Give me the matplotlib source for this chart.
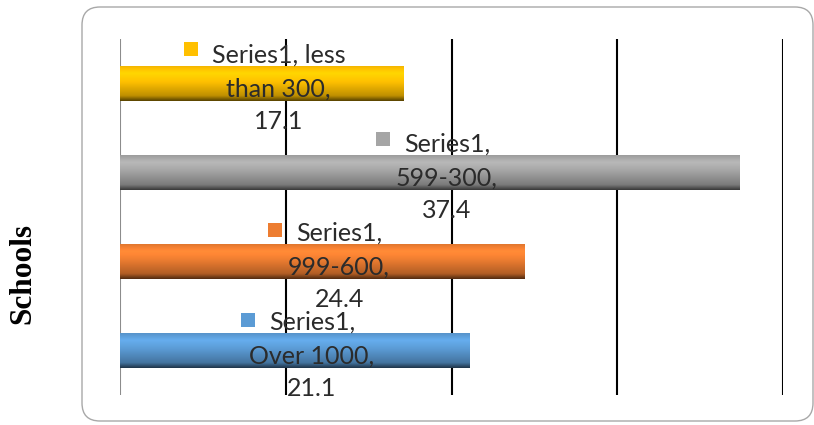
import matplotlib
matplotlib.use("Agg")
import matplotlib.pyplot as plt
import numpy as np
from matplotlib.patches import FancyBboxPatch, Rectangle
from matplotlib.transforms import IdentityTransform
import matplotlib.colors as mcolors

categories = ["Over 1000", "999-600", "599-300", "less than 300"]
values = [21.1, 24.4, 37.4, 17.1]
colors = ["#5B9BD5", "#ED7D31", "#A5A5A5", "#FFC000"]
label_lines = [
    ["Series1,", "Over 1000,", "21.1"],
    ["Series1,", "999-600,", "24.4"],
    ["Series1,", "599-300,", "37.4"],
    ["Series1, less", "than 300,", "17.1"],
]
xticks = [0, 10, 20, 30, 40]

W, H = 814, 425
fig = plt.figure(figsize=(W / 100, H / 100), dpi=100)
fig.patch.set_facecolor("white")

# rounded frame (pixel coordinates)
frame = FancyBboxPatch((82, 4), 813 - 82, 418 - 4,
                       boxstyle="round,pad=0,rounding_size=18",
                       transform=IdentityTransform(), facecolor="white",
                       edgecolor="#A8A8A8", linewidth=1.0, zorder=-5)
fig.patches.append(frame)

ax = fig.add_axes([120 / W, (H - 395) / H, (783 - 120) / W, (395 - 39) / H])
ax.set_zorder(1)
ax.set_facecolor("none")
for s in ax.spines.values():
    s.set_visible(False)
ax.set_xticks([])
ax.set_yticks([])

for x in xticks:
    ax.axvline(x, color="#8C8C8C" if x == 0 else "black", lw=1.5, zorder=1)

ypos = np.arange(len(categories))
bars = ax.barh(ypos, values, height=0.39, color=colors, zorder=2)

# gradient overlay on each bar
for b, c in zip(bars, colors):
    x0, y0 = b.get_x(), b.get_y()
    w, h = b.get_width(), b.get_height()
    rgb = np.array(mcolors.to_rgb(c))
    n = 64
    t = np.linspace(0, 1, n)  # 0 bottom, 1 top
    shade = np.interp(t, [0, 0.15, 0.55, 0.8, 1.0], [0.35, 0.75, 1.0, 1.12, 0.95])
    col = np.clip(rgb[None, :] * shade[:, None], 0, 1)
    img = np.repeat(col[:, None, :], 2, axis=1)
    ax.imshow(img, extent=(x0, x0 + w, y0, y0 + h), origin="lower",
              aspect="auto", zorder=2.5, interpolation="bilinear")
    b.set_edgecolor("none")
ax.set_xlim(0, 40)
ax.set_ylim(-0.5, 3.5)

fs = 18
font = "Lato"
px2pt = 0.72
dx = 17 * px2pt
baseline_offsets = [20.5, -13, -45.5]  # pixels, upward positive, relative to bar centre
first_lines = []
for i, (v, lines, c) in enumerate(zip(values, label_lines, colors)):
    cx = v / 2
    for j, (ln, dy) in enumerate(zip(lines, baseline_offsets)):
        t = ax.annotate(ln, (cx, i), xytext=(dx, dy * px2pt), textcoords="offset points",
                        ha="center", va="baseline", fontsize=fs, family=font,
                        color="#2B2B2B", zorder=4)
        if j == 0:
            first_lines.append((t, c))

fig.canvas.draw()
r = fig.canvas.get_renderer()
for t, c in first_lines:
    bb = t.get_window_extent(r)
    # baseline position in pixels
    bx, by = t.get_transform().transform(t.xy)
    by = by + t.xyann[1] / px2pt
    sq = 14
    fig.patches.append(Rectangle((bb.x0 - 14 - sq, by + 3), sq, sq,
                                 transform=IdentityTransform(), facecolor=c,
                                 edgecolor="none", zorder=5))

fig.text(23 / W, 1 - 274 / H, "Schools", rotation=90, ha="center", va="center",
         fontsize=22.5, fontweight="bold", family="Liberation Serif", color="black")

fig.savefig("out.png", dpi=100, facecolor="white")
